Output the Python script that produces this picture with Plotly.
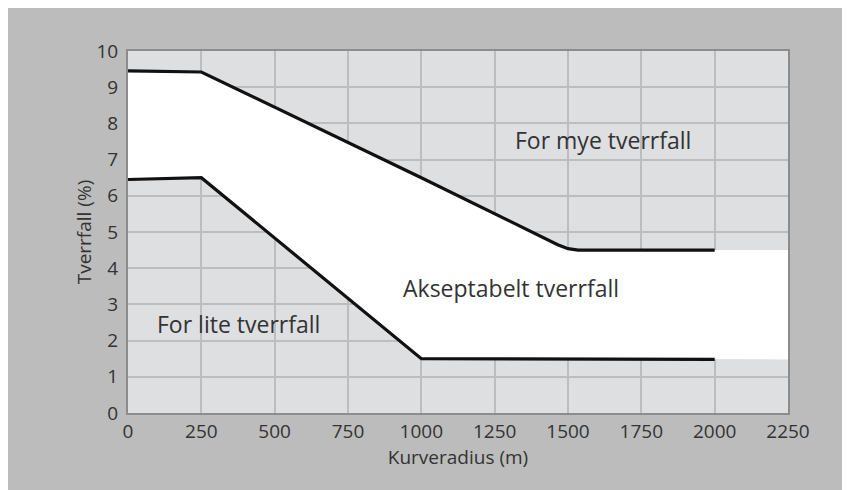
import plotly.graph_objects as go

# ---- data ----
upper_radius = [0, 120, 250, 1000, 1465, 1500, 1535, 2000]
upper_slope = [9.45, 9.43, 9.42, 6.5, 4.65, 4.54, 4.5, 4.5]

lower_radius = [0, 120, 250, 1000, 2000]
lower_slope = [6.45, 6.48, 6.5, 1.5, 1.48]

band_end = 2250  # the acceptable band continues to the axis end

x_ticks = [0, 250, 500, 750, 1000, 1250, 1500, 1750, 2000, 2250]
y_ticks = [0, 1, 2, 3, 4, 5, 6, 7, 8, 9, 10]

labels = ["For mye tverrfall", "Akseptabelt tverrfall", "For lite tverrfall"]
label_x = [1619, 1307, 378]
label_y = [7.54, 3.45, 2.46]

x_title = "Kurveradius (m)"
y_title = "Tverrfall (%)"

# ---- styling ----
FONT = "Open Sans"
TXT = "#333333"
OUTER = "#bcbcbc"
PLOT_BG = "#dedfe1"
GRID = "#bcbdbf"
AXIS = "#8c8c8c"

fig = go.Figure()

# white acceptable band (polygon built from the two curves)
band_x = lower_radius + [band_end, band_end] + upper_radius[::-1]
band_y = lower_slope + [lower_slope[-1], upper_slope[-1]] + upper_slope[::-1]
fig.add_trace(go.Scatter(x=band_x, y=band_y, fill="toself", fillcolor="white",
                         mode="lines", line=dict(width=0, color="white"),
                         hoverinfo="skip", showlegend=False))

# curves on overlay axes (so the overlay grid sits between fill and curves)
fig.add_trace(go.Scatter(x=upper_radius, y=upper_slope, mode="lines",
                         line=dict(color="#111111", width=3.2),
                         xaxis="x2", yaxis="y2", showlegend=False))
fig.add_trace(go.Scatter(x=lower_radius, y=lower_slope, mode="lines",
                         line=dict(color="#111111", width=3.2),
                         xaxis="x2", yaxis="y2", showlegend=False))

for t, x, y in zip(labels, label_x, label_y):
    fig.add_annotation(x=x, y=y, xref="x", yref="y", text=t, showarrow=False,
                       font=dict(family=FONT, size=23, color=TXT))

xr = [0, 2250]
yr = [0, 10]

fig.update_layout(
    width=850, height=490,
    margin=dict(l=120, r=70, t=43, b=85),
    paper_bgcolor=OUTER, plot_bgcolor=PLOT_BG,
    font=dict(family=FONT, size=19, color=TXT),
    showlegend=False,
    xaxis=dict(range=xr, tickvals=x_ticks, ticktext=[str(v) for v in x_ticks],
               showgrid=False, zeroline=False, showline=True, mirror=True,
               linecolor=AXIS, linewidth=2, ticks="", ticklabelstandoff=0,
               title=dict(text=x_title, font=dict(size=19, color=TXT), standoff=0),
               fixedrange=True),
    yaxis=dict(range=yr, tickvals=y_ticks, ticktext=[str(v) for v in y_ticks],
               showgrid=False, zeroline=False, showline=True, mirror=True,
               linecolor=AXIS, linewidth=2, ticks="", ticklabelstandoff=4,
               title=dict(text=y_title, font=dict(size=19, color=TXT), standoff=0),
               fixedrange=True),
    xaxis2=dict(range=xr, overlaying="x", tickvals=x_ticks[1:-1], showticklabels=False,
                showgrid=True, gridcolor=GRID, gridwidth=1.5, zeroline=False,
                showline=False, ticks="", fixedrange=True),
    yaxis2=dict(range=yr, overlaying="y", tickvals=y_ticks[1:-1], showticklabels=False,
                showgrid=True, gridcolor=GRID, gridwidth=1.5, zeroline=False,
                showline=False, ticks="", fixedrange=True),
)

fig.write_html("out.html")
